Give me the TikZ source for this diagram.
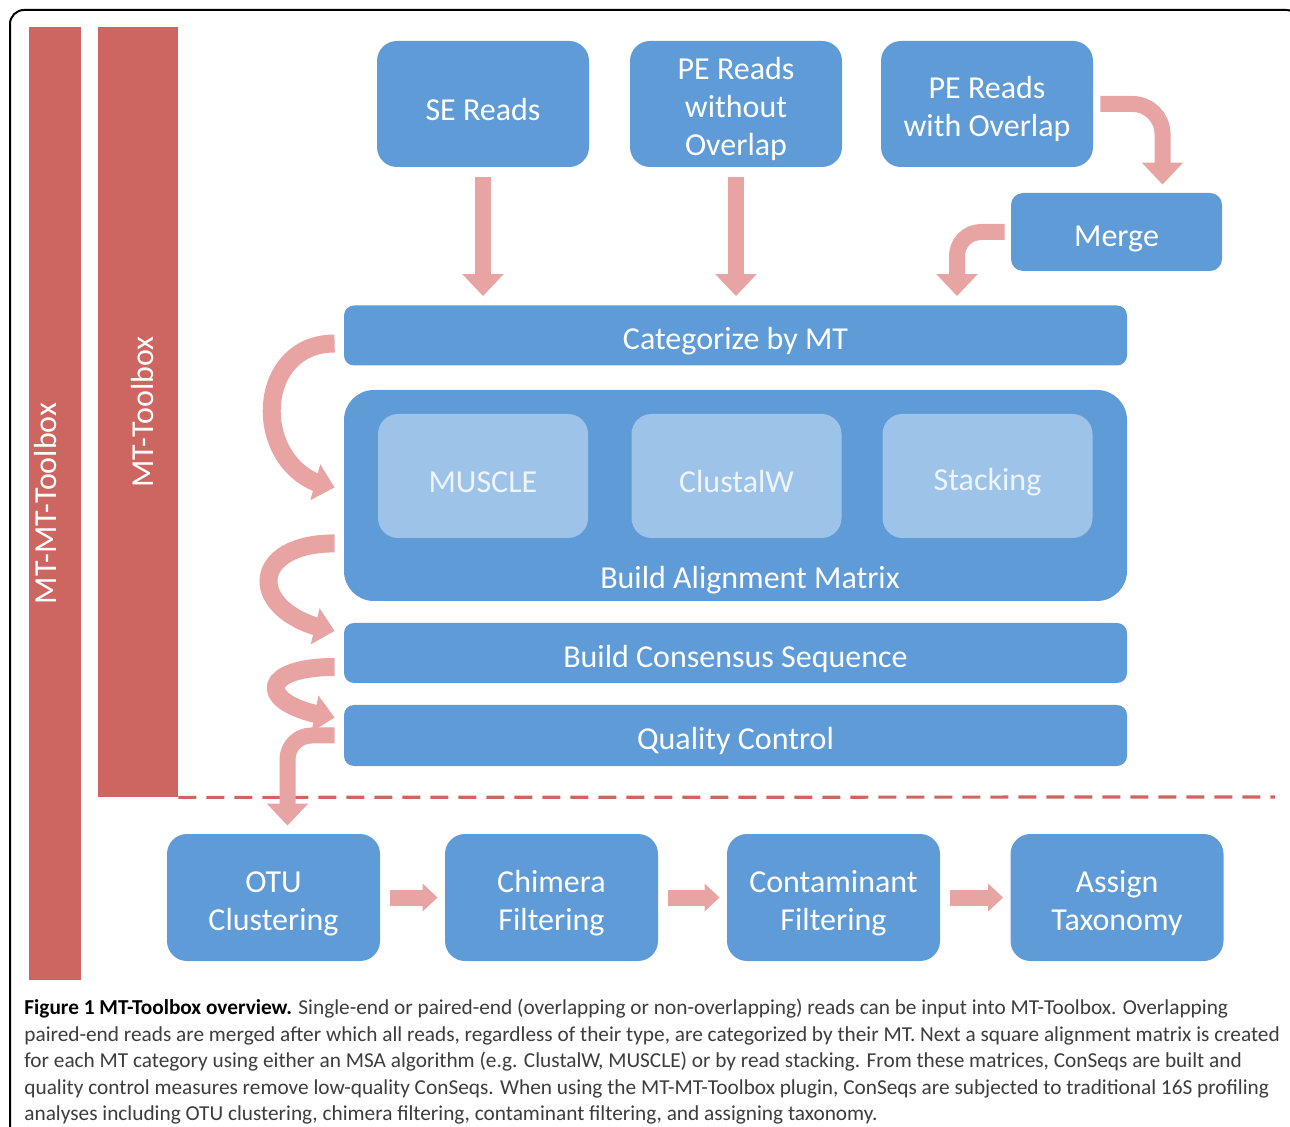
\documentclass[tikz,border=0pt]{standalone}
\usepackage{fontspec}
\setmainfont{Carlito}
\usepackage{tikz}
\usetikzlibrary{positioning, arrows.meta, bending, calc}

\definecolor{boxblue}{RGB}{95,155,215}
\definecolor{boxlight}{RGB}{158,195,232}
\definecolor{boxlighttext}{RGB}{238,244,251}
\definecolor{barred}{RGB}{205,102,96}
\definecolor{flowpink}{RGB}{232,163,163}
\definecolor{captext}{RGB}{60,60,60}

% several lines in a box, set a little lower
\newcommand{\mline}[1]{\raisebox{0pt}[\dimexpr\height+6pt\relax]{\begin{tabular}{@{}c@{}}#1\end{tabular}}}

\tikzset{
    bluebox/.style={fill=boxblue, draw=none, rounded corners=10pt, text=white, align=center,
        font=\fontsize{16}{19}\selectfont, minimum width=106pt, minimum height=63pt, inner sep=0pt,
        execute at begin node={\rule{0pt}{17pt}}},
    bandbox/.style={bluebox, rounded corners=5pt, minimum width=391.5pt, minimum height=30pt},
    innerbox/.style={bluebox, fill=boxlight, text=boxlighttext, minimum width=105pt, minimum height=62pt},
    redbar/.style={fill=barred, draw=none, inner sep=0pt},
    bartext/.style={rotate=90, text=white, font=\fontsize{16}{19}\selectfont, inner sep=0pt},
    flow/.style={draw=flowpink, line width=8pt, -{Triangle[width=20pt,length=11pt]}},
    bendflow/.style={draw=flowpink, line width=9pt, -{Triangle[width=18pt,length=10pt]}},
    sideflow/.style={draw=flowpink, line width=8pt, -{Triangle[width=13.5pt,length=7.5pt]}},
    dashline/.style={draw=barred, line width=1.6pt, dash pattern=on 9pt off 5pt},
    caption/.style={anchor=north west, align=left, text=captext, inner sep=0pt,
        font=\fontsize{10.65}{13.25}\selectfont},
}

\begin{document}
\begin{tikzpicture}[x=0.5pt, y=-0.5pt]
    \useasboundingbox (0,0) rectangle (1290,1127);

    % frame
    \draw[black, line width=1pt, rounded corners=7pt] (10,10) rectangle (1300,1150);

    % side bars
    \node[redbar, minimum width=26pt, minimum height=476.5pt] (mtmt) at (55,503.5) {};
    \node[bartext] (mtmtlbl) at ([xshift=-5pt]mtmt.center) {MT-MT-Toolbox};
    \node[redbar, minimum width=40pt, minimum height=385pt] (mt) at (138,412) {};
    \node[bartext] (mtlbl) at ([xshift=2pt]mt.center) {MT-Toolbox};

    % read types
    \node[bluebox] (se) at (483,104) {SE Reads};
    \node[bluebox] (woovl) at (736,104) {\mline{PE Reads\\without\\Overlap}};
    \node[bluebox] (wovl) at (987,104) {\mline{PE Reads\\with Overlap}};
    \node[bluebox, rounded corners=6pt, minimum width=105.5pt, minimum height=39pt] (merge) at (1116.5,232) {Merge};

    % MT-Toolbox steps
    \node[bandbox] (cat) at (735.5,335.5) {Categorize by MT};
    \node[bluebox, rounded corners=15pt, minimum width=391.5pt, minimum height=105.5pt] (balign) at (735.5,495.5) {};
    \foreach \name/\x/\txt in {muscle/483/MUSCLE, clustalw/736.5/ClustalW, stacking/987.5/Stacking}
    {
        \node[innerbox] (\name) at (\x,476) {\txt};
    }
    \node[text=white, font=\fontsize{16}{19}\selectfont] (balignlbl) at (750,580) {Build Alignment Matrix};
    \node[bandbox] (bcs) at (735.5,653) {Build Consensus Sequence};
    \node[bandbox, minimum height=30.5pt] (qc) at (735.5,735.5) {Quality Control};

    % plugin steps
    \foreach \name/\x/\txt in {otu/273.5/{OTU\\Clustering}, chim/551.5/{Chimera\\Filtering},
        cont/833.5/{Contaminant\\Filtering}, assign/1117/{Assign\\Taxonomy}}
    {
        \node[bluebox, minimum width=106.5pt, minimum height=63.5pt] (\name) at (\x,897.5) {\mline{\txt}};
    }

    \draw[dashline] (mt.south east) -- (1275,797);

    % arrows
    \draw[flow, shorten <=5pt] (se.south) -- ([yshift=4.5pt]se.south |- cat.north);
    \draw[flow, shorten <=5pt] (woovl.south) -- ([yshift=4.5pt]woovl.south |- cat.north);
    \draw[flow, rounded corners=15pt] ([xshift=3.5pt]wovl.east) -| ([xshift=23pt,yshift=4pt]merge.north);
    \draw[flow, rounded corners=12pt] ([xshift=-3pt]merge.west) -| ([xshift=110.75pt,yshift=4.5pt]cat.north);

    \draw[bendflow] ([xshift=-4.5pt,yshift=-4pt]cat.west)
        to[out=180, in=172, looseness=1.5] ([xshift=-4.5pt,yshift=4pt]balign.west);
    \draw[bendflow] ([xshift=-4.5pt,yshift=29pt]balign.south west)
        to[out=180, in=170, looseness=2.6] ([xshift=-4.5pt,yshift=11pt]bcs.west);
    \draw[bendflow] ([xshift=-4.5pt,yshift=-7pt]bcs.west)
        to[out=180, in=172, looseness=4] ([xshift=-4.5pt,yshift=9pt]qc.west);

    \draw[flow, rounded corners=12pt] ([xshift=-4.5pt]qc.west) -| ([xshift=7pt,yshift=4pt]otu.north);

    \foreach \a/\b in {otu/chim, chim/cont, cont/assign}
    {
        \draw[sideflow, shorten <=5pt, shorten >=3.5pt] (\a.east) -- (\b.west);
    }

    % caption
    \node[caption] (cap) at (24,999) {\textcolor{black}{\textbf{Figure 1 MT-Toolbox overview.}} Single-end or paired-end (overlapping or non-overlapping) reads can be input into MT-Toolbox. Overlapping\\
        paired-end reads are merged after which all reads, regardless of their type, are categorized by their MT. Next a square alignment matrix is created\\
        for each MT category using either an MSA algorithm (e.g. ClustalW, MUSCLE) or by read stacking. From these matrices, ConSeqs are built and\\
        quality control measures remove low-quality ConSeqs. When using the MT-MT-Toolbox plugin, ConSeqs are subjected to traditional 16S profiling\\
        analyses including OTU clustering, chimera filtering, contaminant filtering, and assigning taxonomy.};
\end{tikzpicture}
\end{document}
